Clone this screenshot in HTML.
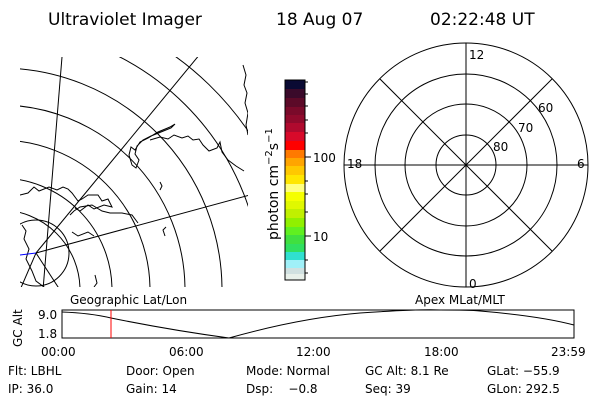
<!DOCTYPE html>
<html><head><style>
html,body{margin:0;padding:0;background:#fff;width:600px;height:400px;overflow:hidden}
svg{display:block}
text{font-family:"DejaVu Sans","Liberation Sans",sans-serif;fill:#000}
</style></head><body>
<svg width="600" height="400" viewBox="0 0 600 400" xmlns="http://www.w3.org/2000/svg">
<rect width="600" height="400" fill="#fff"/>
<g font-size="17">
<text x="48" y="25">Ultraviolet Imager</text>
<text x="276" y="25">18 Aug 07</text>
<text x="430" y="25">02:22:48 UT</text>
</g>
<defs><clipPath id="mc"><rect x="20" y="57" width="228" height="230"/></clipPath></defs>
<g clip-path="url(#mc)" fill="none" stroke="#000" stroke-width="1">
<path d="M0 210 A80 80 0 0 1 80 290"/>
<path d="M0 178 A112 112 0 0 1 112 290"/>
<path d="M0 140 A150 150 0 0 1 150 290"/>
<path d="M0 105 A185 185 0 0 1 185 290"/>
<path d="M0 68 A222 222 0 0 1 222 290"/>
<path d="M0 28 A262 262 0 0 1 262 290"/>
<path d="M0 0 A300 300 0 0 1 300 290"/>
<circle cx="36" cy="253" r="33"/>
<line x1="36" y1="253" x2="205" y2="48"/>
<line x1="36" y1="253" x2="250" y2="195"/>
<line x1="43" y1="290" x2="62" y2="57"/>
<line x1="36" y1="253" x2="20" y2="290"/>
<line x1="36" y1="253" x2="60" y2="290"/>
<path d="M135 150 l5 -8 8 -4 10 -6 12 -5 5 -3 -4 4 -10 4 -10 4 -8 4 -6 6 -2 8 4 6 -3 8 -4 -3 -3 -10 2 -8z"/>
<path d="M150 140 l10 -3 8 2 6 -4 8 3 6 -2 5 4 6 -1 4 6 6 6 8 -3 3 -6 2 10 6 8 8 6 8 5"/>
<path d="M243 65 l3 10 -2 10 3 8 -2 10 3 10 -2 12 2 10"/>
<path d="M20 195 l8 -2 6 -6 5 4 10 -4 8 3 6 -3 5 2 4 4 6 8 4 -2 6 -4 10 0 4 6 6 -2 4 8 -8 -2 -10 4 -6 -4 -8 6 -5 -3"/>
<path d="M70 215 l4 -4 6 -4 12 -2 10 6 8 2 12 0 10 2 6 8"/>
<path d="M22 225 l4 6 -2 8 5 10 -3 10 6 12 4 10 8 6 6 4"/>
<path d="M72 232 l6 4 10 -4 6 4"/>
<path d="M160 190 l2 -4 -2 -4"/>
<path d="M165 236 l-2 -6 3 -3"/>
<path d="M95 275 l2 8 -3 4"/>
</g>
<line x1="20" y1="255" x2="36" y2="253" stroke="#00f" stroke-width="1"/>
<g>
<rect x="285" y="80" width="20" height="9" fill="#0a0a33"/>
<rect x="285" y="89" width="20" height="9" fill="#3a0a2a"/>
<rect x="285" y="98" width="20" height="9" fill="#5c0a28"/>
<rect x="285" y="107" width="20" height="8" fill="#7a0a2a"/>
<rect x="285" y="115" width="20" height="8" fill="#900a2c"/>
<rect x="285" y="123" width="20" height="9" fill="#b00a2e"/>
<rect x="285" y="132" width="20" height="9" fill="#d80a2a"/>
<rect x="285" y="141" width="20" height="9" fill="#ff0000"/>
<rect x="285" y="150" width="20" height="8" fill="#ff7a00"/>
<rect x="285" y="158" width="20" height="8" fill="#ffa500"/>
<rect x="285" y="166" width="20" height="9" fill="#ffc800"/>
<rect x="285" y="175" width="20" height="9" fill="#ffe600"/>
<rect x="285" y="184" width="20" height="8" fill="#ffff80"/>
<rect x="285" y="192" width="20" height="9" fill="#f5ff00"/>
<rect x="285" y="201" width="20" height="8" fill="#e0f800"/>
<rect x="285" y="209" width="20" height="9" fill="#c0f000"/>
<rect x="285" y="218" width="20" height="9" fill="#90f000"/>
<rect x="285" y="227" width="20" height="8" fill="#60f020"/>
<rect x="285" y="235" width="20" height="9" fill="#40e040"/>
<rect x="285" y="244" width="20" height="8" fill="#30e060"/>
<rect x="285" y="252" width="20" height="8" fill="#30e0d0"/>
<rect x="285" y="260" width="20" height="8" fill="#a0f0f8"/>
<rect x="285" y="268" width="20" height="6" fill="#d0e0e0"/>
<rect x="285" y="274" width="20" height="6" fill="#e8f0ea"/>
<rect x="285" y="80" width="20" height="200" fill="none" stroke="#000"/>
<g stroke="#000">
<line x1="305" y1="157" x2="311" y2="157"/><line x1="305" y1="236" x2="311" y2="236"/>
<line x1="305" y1="82" x2="308" y2="82"/><line x1="305" y1="94" x2="308" y2="94"/><line x1="305" y1="106" x2="308" y2="106"/><line x1="305" y1="120" x2="308" y2="120"/><line x1="305" y1="133" x2="308" y2="133"/>
<line x1="305" y1="181" x2="308" y2="181"/><line x1="305" y1="194" x2="308" y2="194"/><line x1="305" y1="212" x2="308" y2="212"/>
<line x1="305" y1="260" x2="308" y2="260"/><line x1="305" y1="273" x2="308" y2="273"/>
</g>
<text x="313" y="162" font-size="12">100</text>
<text x="313" y="241" font-size="12">10</text>
<text transform="translate(278,240) rotate(-90)" font-size="14">photon cm<tspan dy="-6" font-size="10">−2</tspan><tspan dy="6" font-size="14">s</tspan><tspan dy="-6" font-size="10">−1</tspan></text>
</g>
<g fill="none" stroke="#000">
<circle cx="466" cy="165" r="122"/>
<circle cx="466" cy="165" r="91"/>
<circle cx="466" cy="165" r="61"/>
<circle cx="466" cy="165" r="30"/>
<line x1="344" y1="165" x2="588" y2="165"/>
<line x1="466" y1="43" x2="466" y2="287"/>
<line x1="380" y1="79" x2="552" y2="251"/>
<line x1="552" y1="79" x2="380" y2="251"/>
</g>
<g font-size="12">
<text x="469" y="59">12</text>
<text x="347" y="168">18</text>
<text x="577" y="168">6</text>
<text x="469" y="288">0</text>
<text x="493" y="151">80</text>
<text x="518" y="132">70</text>
<text x="538" y="112">60</text>
</g>
<g font-size="12">
<text x="70" y="304">Geographic Lat/Lon</text>
<text x="415" y="304">Apex MLat/MLT</text>
<text x="38" y="319">9.0</text>
<text x="38" y="338">1.8</text>
<text transform="translate(22,347) rotate(-90)">GC Alt</text>
<text x="41" y="356">00:00</text>
<text x="169" y="356">06:00</text>
<text x="296" y="356">12:00</text>
<text x="424" y="356">18:00</text>
<text x="551" y="356">23:59</text>
<text x="8" y="375">Flt: LBHL</text>
<text x="126" y="375">Door: Open</text>
<text x="246" y="375">Mode: Normal</text>
<text x="365" y="375">GC Alt: 8.1 Re</text>
<text x="487" y="375">GLat: −55.9</text>
<text x="8" y="393">IP: 36.0</text>
<text x="126" y="393">Gain: 14</text>
<text x="246" y="393">Dsp:&#160;&#160;&#160;&#160;−0.8</text>
<text x="365" y="393">Seq: 39</text>
<text x="487" y="393">GLon: 292.5</text>
</g>
<rect x="62" y="310" width="512" height="28" fill="none" stroke="#000"/>
<path d="M62 312 Q90 313 111 318 Q170 330 229 338 Q300 318 360 313 Q420 309 440 310 Q470 310 480 311 Q540 316 574 325" fill="none" stroke="#000"/>
<line x1="111" y1="310" x2="111" y2="338" stroke="#f00"/>
</svg>
</body></html>
